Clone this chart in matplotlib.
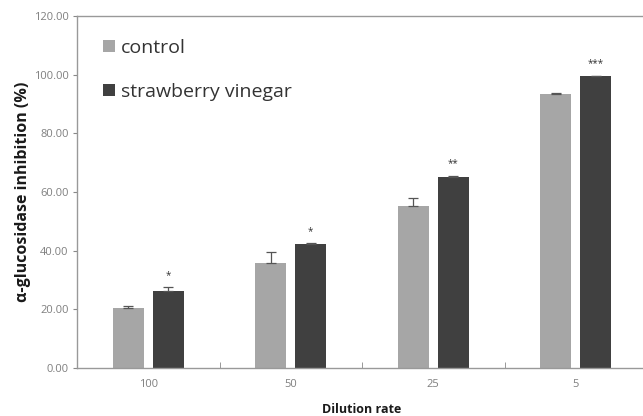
import matplotlib
matplotlib.use("Agg")
import matplotlib.pyplot as plt
import numpy as np

categories = ["100", "50", "25", "5"]
control = [20.6, 35.7, 55.2, 93.3]
control_err = [0.6, 4.0, 2.6, 0.3]
vinegar = [26.2, 42.2, 65.1, 99.4]
vinegar_err = [1.3, 0.3, 0.4, 0.3]
stars = ["*", "*", "**", "***"]
yticks = [0, 20, 40, 60, 80, 100, 120]

plt.rcParams['font.family'] = ['Open Sans', 'DejaVu Sans']

fig = plt.figure(figsize=(6.43, 4.16), dpi=100)
W, H = 643, 416
x0, x1, ytop, ybot = 77, 647, 16, 368
ax = fig.add_axes([x0 / W, 1 - ybot / H, (x1 - x0) / W, (ybot - ytop) / H])

x = np.arange(len(categories))
bw = 0.215
off = 0.14
c_ctrl = "#a6a6a6"
c_vin = "#404040"
ax.bar(x - off, control, bw, color=c_ctrl, label="control", zorder=2)
ax.bar(x + off, vinegar, bw, color=c_vin, label="strawberry vinegar", zorder=2)
ax.errorbar(x - off, control, yerr=[np.zeros(4), control_err], fmt="none",
            ecolor="#555555", elinewidth=0.9, capsize=3.5, capthick=0.9, zorder=3)
ax.errorbar(x + off, vinegar, yerr=[np.zeros(4), vinegar_err], fmt="none",
            ecolor="#555555", elinewidth=0.9, capsize=3.5, capthick=0.9, zorder=3)
for xi, v, e, s in zip(x, vinegar, vinegar_err, stars):
    ax.text(xi + off, v + e + 2.2, s, ha="center", va="bottom", fontsize=7,
            color="#333333")

ax.set_xlim(-0.5, len(categories) - 0.5)
ax.set_ylim(0, 120)
ax.set_yticks(yticks)
ax.set_yticklabels([f"{t:.2f}" for t in yticks], fontsize=8, color="#7f7f7f")
ax.set_xticks(x)
ax.set_xticklabels(categories, fontsize=8, color="#7f7f7f")
ax.tick_params(axis="x", length=0, pad=8)
ax.set_xticks(np.arange(len(categories) + 1) - 0.5, minor=True)
ax.tick_params(axis="x", which="minor", direction="in", length=4, color="#888888")
ax.tick_params(axis="y", direction="out", length=3, color="#888888", pad=3)

for sp in ["left", "bottom", "top", "right"]:
    ax.spines[sp].set_color("#999999")
    ax.spines[sp].set_linewidth(1.0)

ax.set_ylabel("α-glucosidase inhibition (%)", fontsize=11.5, fontweight="bold",
              color="#1a1a1a", labelpad=2)
ax.set_xlabel("Dilution rate", fontsize=9, fontweight="bold", color="#1a1a1a",
              labelpad=9)

leg = ax.legend(loc="upper left", bbox_to_anchor=(0.015, 0.985), frameon=False,
                fontsize=14, handlelength=0.6, handleheight=0.6,
                handletextpad=0.3, labelspacing=1.35, labelcolor="#333333")

fig.savefig("out.png", dpi=100)
